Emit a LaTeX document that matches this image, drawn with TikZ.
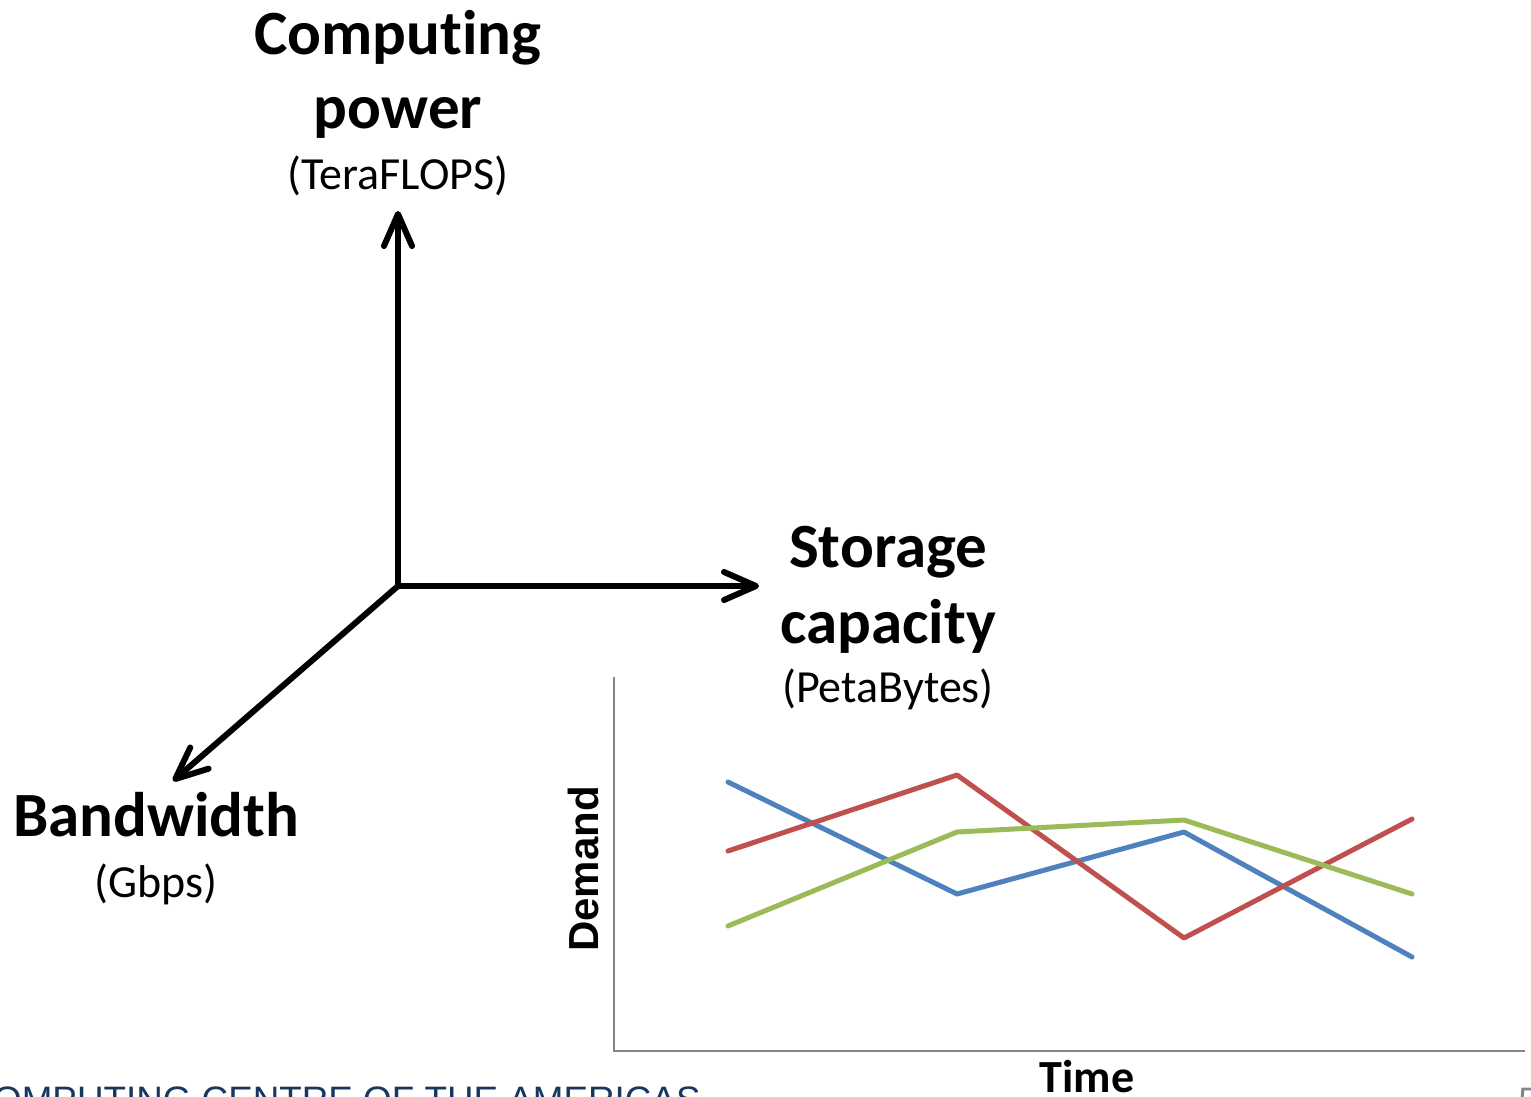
\documentclass[tikz,border=0pt]{standalone}
\usepackage{fontspec}
\setmainfont{Carlito}[Ligatures=NoCommon]
\newfontfamily\arialfont{Liberation Sans}
\usetikzlibrary{arrows.meta}
\definecolor{serieblue}{HTML}{4F81BD}
\definecolor{seriered}{HTML}{C0504D}
\definecolor{seriegreen}{HTML}{9BBB59}
\definecolor{chartgray}{HTML}{868686}
\definecolor{footerblue}{HTML}{17375E}
\begin{document}
\begin{tikzpicture}[x=0.5pt,y=-0.5pt,
    title/.style={font=\fontsize{31.5}{36}\selectfont\bfseries, anchor=base, inner sep=0pt},
    unit/.style={font=\fontsize{23}{28}\selectfont, anchor=base, inner sep=0pt},
    axisarrow/.style={line width=3pt, -{Straight Barb[length=16pt,width=14pt,round]}},
    series/.style={line width=2.5pt, line cap=round, line join=round}]
  \useasboundingbox (0,0) rectangle (1531,1097);
  \clip (0,0) rectangle (1531,1097);
  % the three axes
  \coordinate (o) at (398,586);
  \coordinate (cputip) at (398,211);
  \coordinate (stotip) at (759,586);
  \coordinate (bwtip) at (173,781);
  \draw[axisarrow] (o) -- (cputip);
  \draw[axisarrow] (o) -- (stotip);
  \draw[axisarrow] (o) -- (bwtip);
  % axis labels
  \node[title] (cpu1) at (398,55) {Computing};
  \node[title] (cpu2) at (398,128) {power};
  \node[unit] (cpu3) at (398,190) {(TeraFLOPS)};
  \node[title] (sto1) at (888,567) {Storage};
  \node[title] (sto2) at (888,643) {capacity};
  \node[unit] (sto3) at (888,702) {(PetaBytes)};
  \node[title] (bw1) at (156,836) {Bandwidth};
  \node[unit] (bw2) at (156,897) {(Gbps)};
  % small chart
  \coordinate (c0) at (614,1051);
  \draw[chartgray, line width=1pt] (614,677) -- (c0) -- (1525,1051);
  \draw[series, serieblue] (728,782) -- (957,894) -- (1184,832) -- (1412,957);
  \draw[series, seriered] (728,851) -- (957,775) -- (1184,938) -- (1412,819);
  \draw[series, seriegreen] (728,926) -- (957,832) -- (1184,820) -- (1412,894);
  \node[rotate=90, font=\arialfont\fontsize{21}{25}\selectfont\bfseries] (demand) at (583,869) {Demand};
  \node[font=\fontsize{23}{28}\selectfont\bfseries, anchor=base, inner sep=0pt] (time) at (1087,1092) {Time};
  % slide footer
  \node[font=\arialfont\fontsize{18.4}{22}\selectfont, text=footerblue, anchor=base east, inner sep=0pt] (footer) at (701,1112) {COMPUTING CENTRE OF THE AMERICAS};
  \node[font=\arialfont\fontsize{18.4}{22}\selectfont, text=chartgray, anchor=base west, inner sep=0pt] (page) at (1518,1113) {5};
\end{tikzpicture}
\end{document}
